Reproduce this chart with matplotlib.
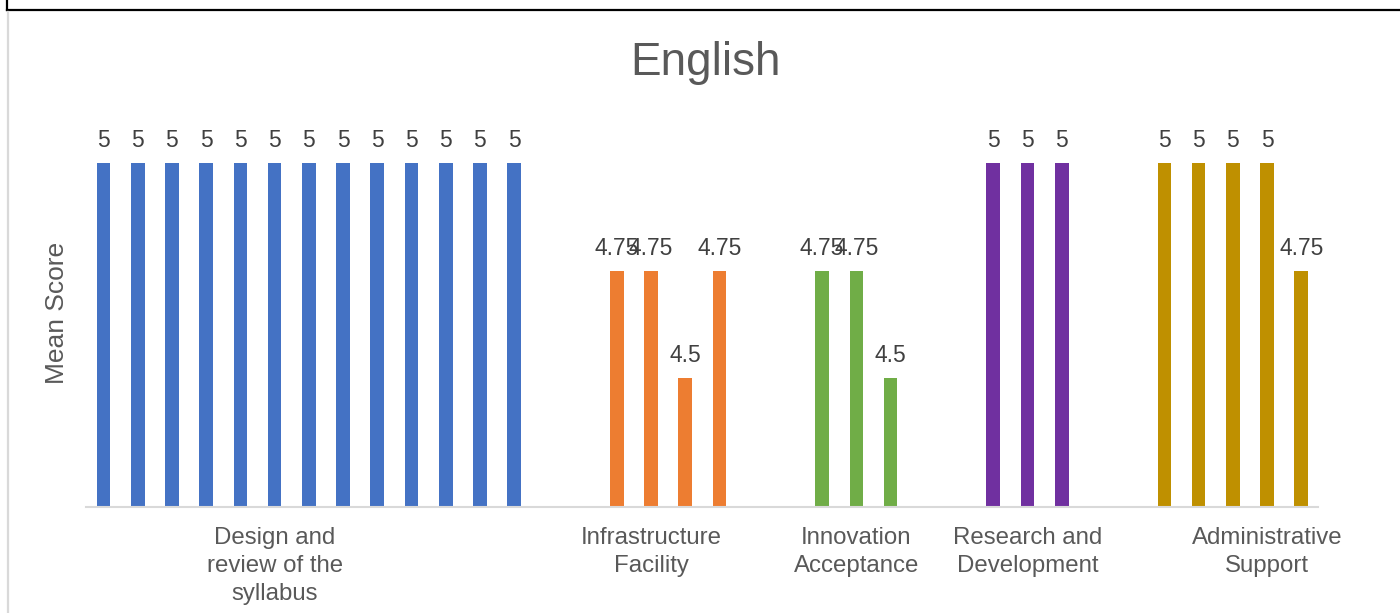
import matplotlib
matplotlib.use("Agg")
import matplotlib.pyplot as plt
from matplotlib.lines import Line2D

plt.rcParams['font.family'] = ['Liberation Sans', 'DejaVu Sans']

# ---- data ----
categories = ["Design and\nreview of the\nsyllabus", "Infrastructure\nFacility",
              "Innovation\nAcceptance", "Research and\nDevelopment",
              "Administrative\nSupport"]
design_scores = [5, 5, 5, 5, 5, 5, 5, 5, 5, 5, 5, 5, 5]
infrastructure_scores = [4.75, 4.75, 4.5, 4.75]
innovation_scores = [4.75, 4.75, 4.5]
research_scores = [5, 5, 5]
admin_scores = [5, 5, 5, 5, 4.75]
groups = [design_scores, infrastructure_scores, innovation_scores,
          research_scores, admin_scores]
colors = ["#4472C4", "#ED7D31", "#70AD47", "#7030A0", "#BF9000"]

# ---- layout ----
W, H = 1400, 613
fig = plt.figure(figsize=(W / 100, H / 100), dpi=100)
ax_left, ax_right = 86.4, 1318.4
ax_bottom_px, ax_top_px = 507.3, 120.3
ax = fig.add_axes([ax_left / W, (H - ax_bottom_px) / H,
                   (ax_right - ax_left) / W, (ax_bottom_px - ax_top_px) / H])

gap_slots = 2
label_offsets = [5, 1, 1, 1, 3]   # where Excel put each category label (slot within group)
start = 0
label_pos = []
total = 0
for g, vals in enumerate(groups):
    xs = [start + i for i in range(len(vals))]
    ax.bar(xs, [v - 4.2 for v in vals], bottom=4.2, width=0.4, color=colors[g])
    for x, v in zip(xs, vals):
        ax.annotate(f"{v:g}", xy=(x, v), xytext=(0, 11.5), textcoords="offset points",
                    ha="center", va="baseline", fontsize=16.5, color="#404040")
    label_pos.append(start + label_offsets[g])
    total = start + len(vals)
    start = total + gap_slots

ax.set_xlim(-0.5, total - 0.5)
ax.set_ylim(4.2, 5.1)
for s in ["top", "right", "left"]:
    ax.spines[s].set_visible(False)
ax.spines["bottom"].set_color("#D9D9D9")
ax.spines["bottom"].set_linewidth(1.5)
ax.set_yticks([])
ax.set_xticks(label_pos)
ax.set_xticklabels(categories, fontsize=17.3, color="#595959", linespacing=1.36)
ax.tick_params(axis="x", length=0, pad=14)

fig.text(705.5 / W, 1 - 75 / H, "English", ha="center", va="baseline",
         fontsize=33, color="#595959")
fig.text(57 / W, 1 - 313 / H, "Mean Score", rotation=90, ha="center", va="center",
         fontsize=19, color="#595959")

# outer frame lines from the screenshot
fig.add_artist(Line2D([7 / W, 1], [1 - 10 / H, 1 - 10 / H], transform=fig.transFigure,
                      color="black", lw=1.6))
fig.add_artist(Line2D([7 / W, 7 / W], [1, 1 - 10 / H], transform=fig.transFigure,
                      color="black", lw=1.6))
fig.add_artist(Line2D([8 / W, 8 / W], [1 - 12 / H, 0], transform=fig.transFigure,
                      color="#D9D9D9", lw=1.6))

fig.savefig("out.png", dpi=100)
